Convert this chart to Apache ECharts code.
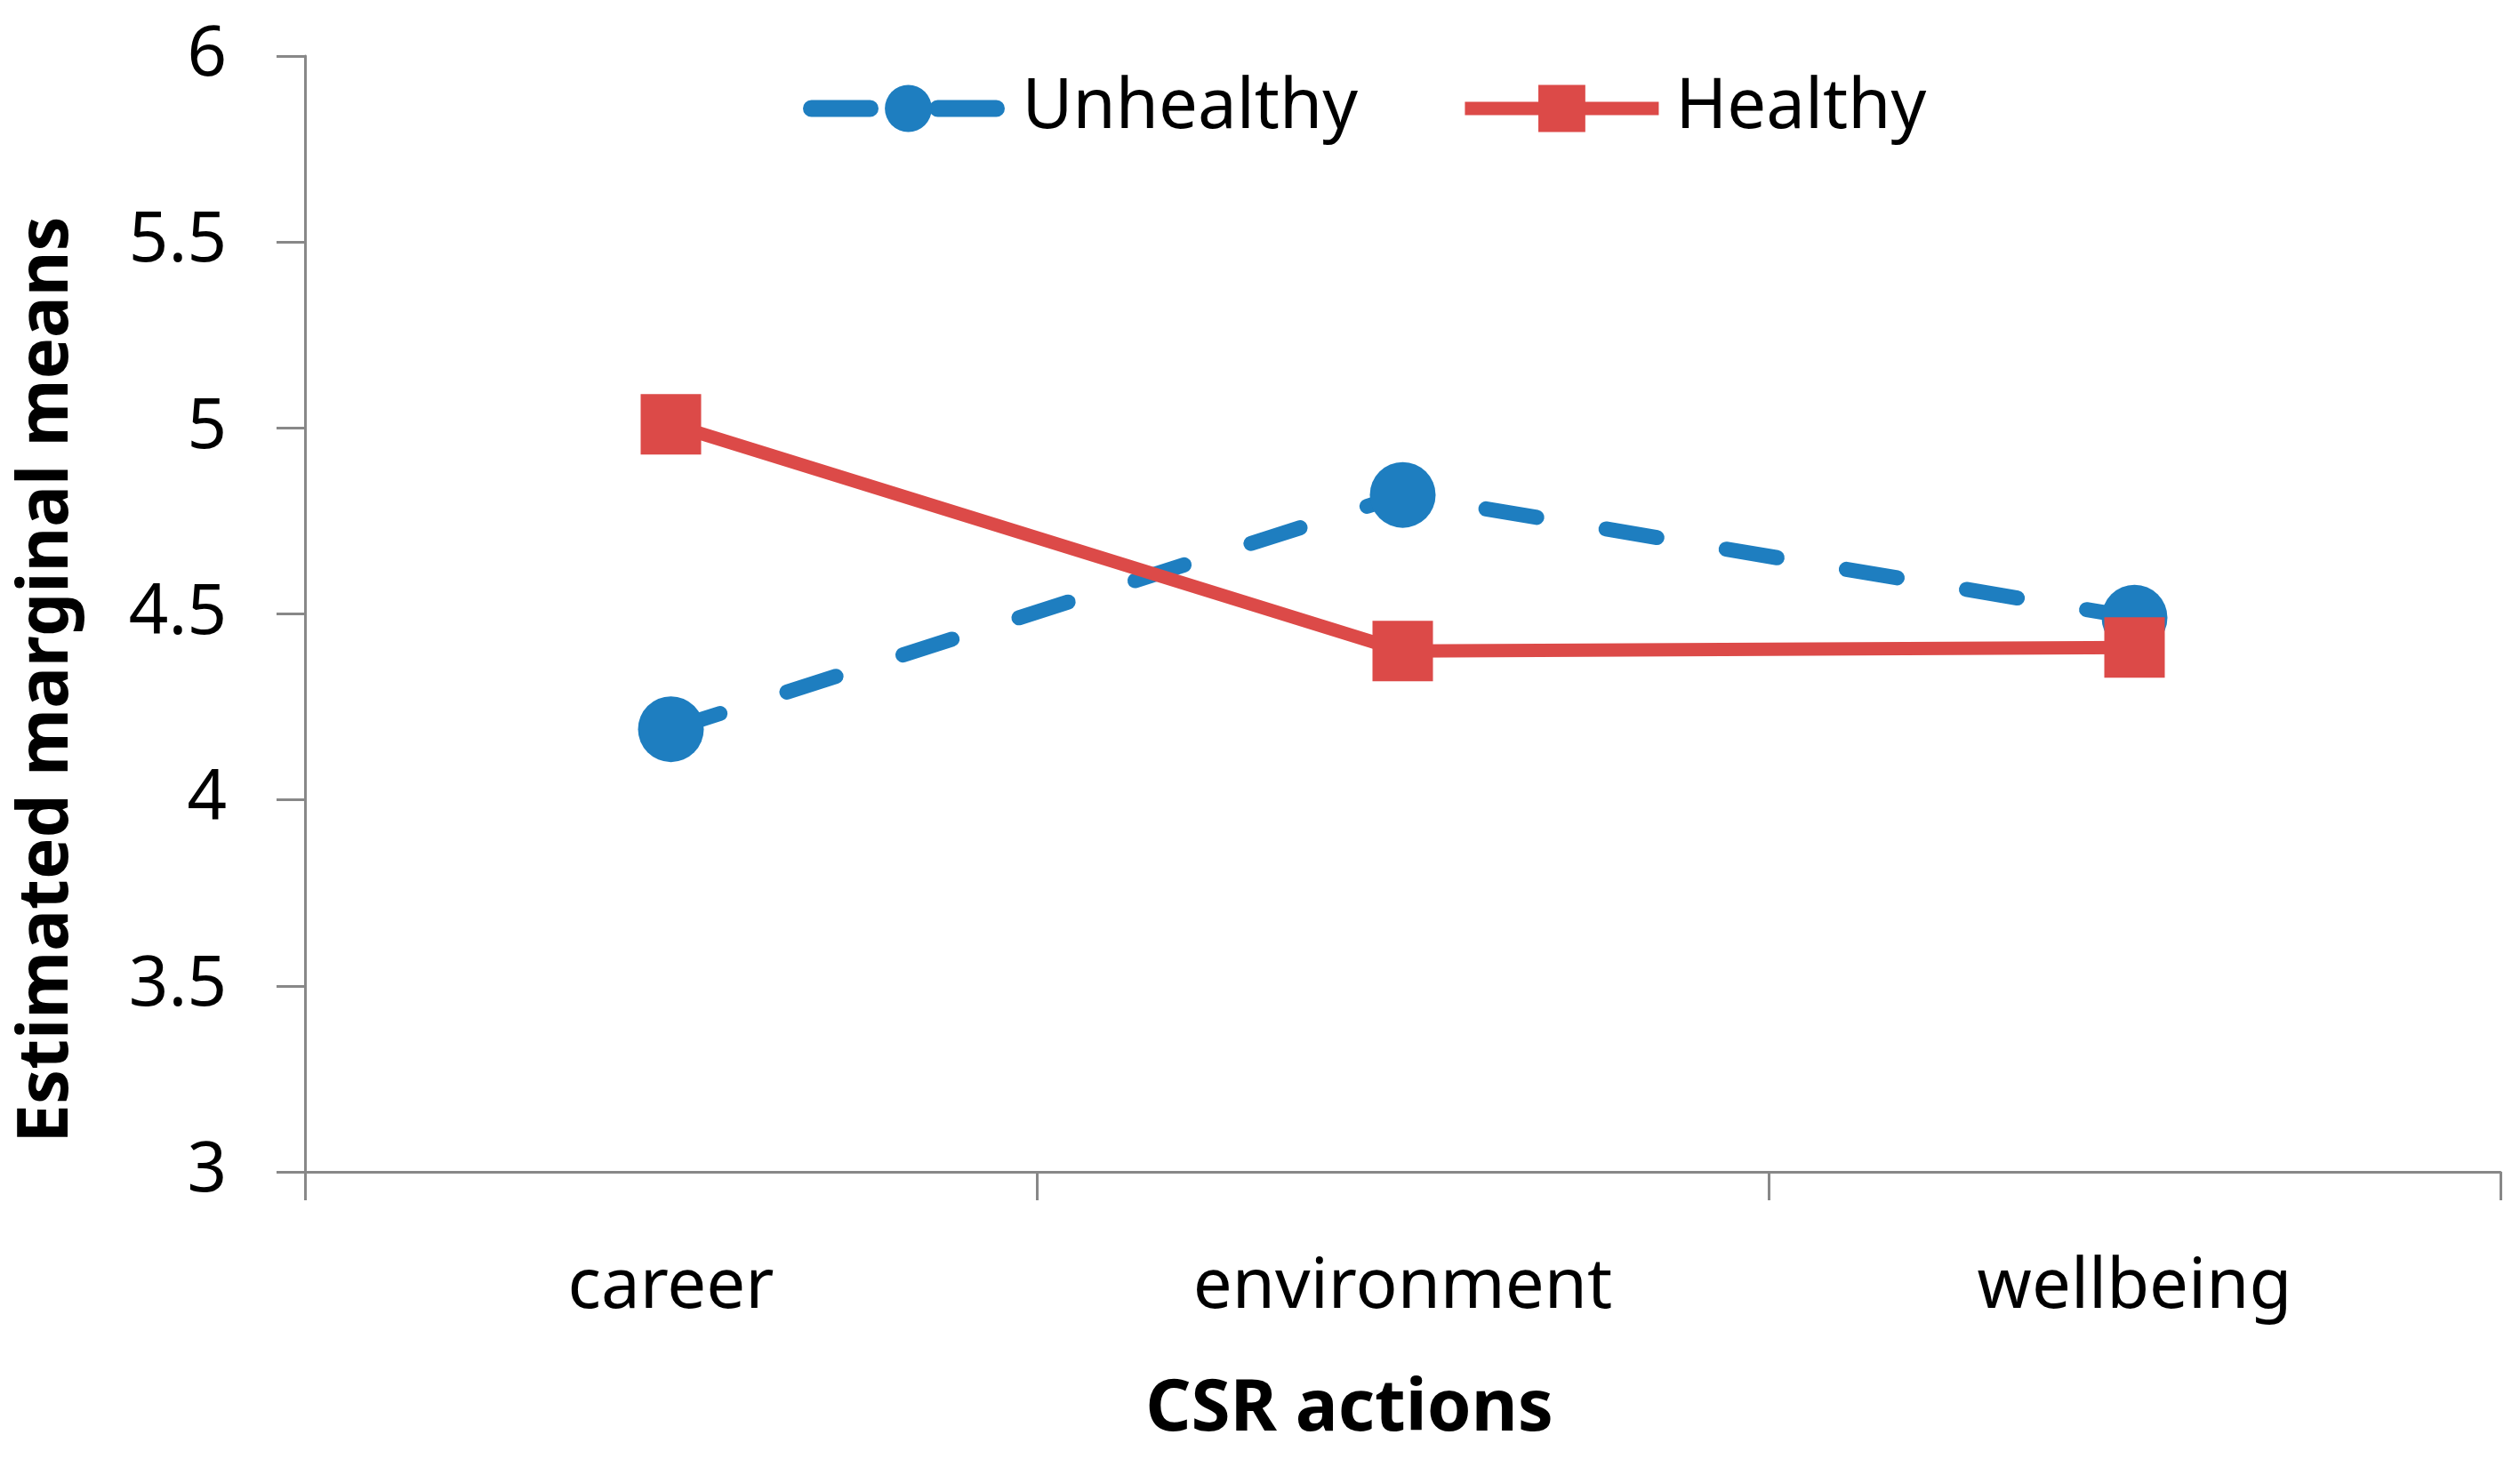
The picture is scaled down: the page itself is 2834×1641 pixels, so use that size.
<!DOCTYPE html>
<html>
<head>
<meta charset="utf-8">
<script src="https://cdn.jsdelivr.net/npm/echarts@6/dist/echarts.min.js"></script>
<style>
html,body{margin:0;padding:0;background:#fff;}
#chart{width:2834px;height:1641px;}
</style>
</head>
<body>
<div id="chart"></div>
<script>
var categories = ['career', 'environment', 'wellbeing'];
var unhealthy = [4.19, 4.82, 4.49];
var healthy = [5.01, 4.40, 4.41];
var seriesNames = ['Unhealthy', 'Healthy'];
var yMin = 3, yMax = 6, yStep = 0.5;
var xTitle = 'CSR actions';
var yTitle = 'Estimated marginal means';

var FONT = 'Noto Sans';
var BLUE = '#1e7ec0';
var RED = '#dc4a48';
var AXIS = '#888888';

var chart = echarts.init(document.getElementById('chart'), null, {renderer: 'canvas'});
chart.setOption({
  animation: false,
  backgroundColor: '#ffffff',
  grid: {left: 343, right: 22, top: 63, bottom: 323, containLabel: false},
  legend: {
    left: 898, top: 78,
    itemWidth: 218, itemHeight: 66, itemGap: 113,
    textStyle: {fontFamily: FONT, fontSize: 78, color: '#000', padding: [0, 0, 0, 14]},
    data: [
      {name: seriesNames[0], lineStyle: {width: 19, type: [66, 76], cap: 'round', color: BLUE}},
      {name: seriesNames[1], lineStyle: {width: 15, type: 'solid', color: RED}}
    ]
  },
  xAxis: {
    type: 'category',
    data: categories,
    boundaryGap: true,
    axisLine: {lineStyle: {color: AXIS, width: 3}},
    axisTick: {show: true, length: 32, lineStyle: {color: AXIS, width: 3}},
    axisLabel: {fontFamily: FONT, fontSize: 78, color: '#000', margin: 92},
    splitLine: {show: false},
    name: xTitle,
    nameLocation: 'middle',
    nameGap: 228,
    nameTextStyle: {fontFamily: FONT, fontSize: 80, fontWeight: 'bold', color: '#000', padding: [0, 120, 0, 0]}
  },
  yAxis: {
    type: 'value',
    min: yMin, max: yMax, interval: yStep,
    axisLine: {show: true, lineStyle: {color: AXIS, width: 3}},
    axisTick: {show: true, length: 32, lineStyle: {color: AXIS, width: 3}},
    axisLabel: {fontFamily: FONT, fontSize: 78, color: '#000', margin: 88},
    splitLine: {show: false},
    name: yTitle,
    nameLocation: 'middle',
    nameRotate: 90,
    nameGap: 250,
    nameTextStyle: {fontFamily: FONT, fontSize: 78, fontWeight: 'bold', color: '#000', padding: [0, 148, 0, 0]}
  },
  series: [
    {
      name: seriesNames[0],
      type: 'line',
      data: unhealthy,
      symbol: 'circle',
      symbolSize: 74,
      itemStyle: {color: BLUE},
      lineStyle: {color: BLUE, width: 17, type: [58, 79], cap: 'round'}
    },
    {
      name: seriesNames[1],
      type: 'line',
      data: healthy,
      symbol: 'rect',
      symbolSize: 68,
      itemStyle: {color: RED},
      lineStyle: {color: RED, width: 15, type: 'solid'}
    }
  ]
});
</script>
</body>
</html>
